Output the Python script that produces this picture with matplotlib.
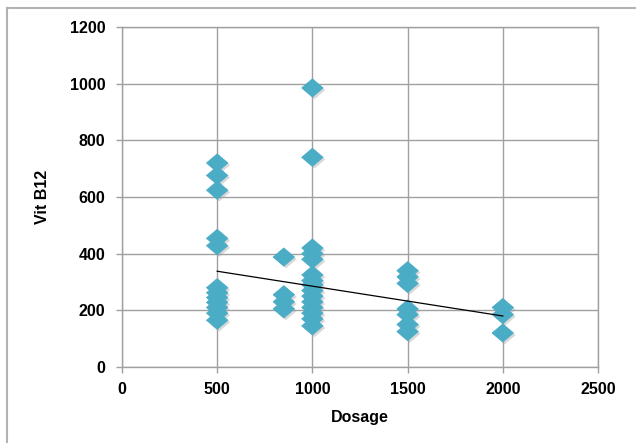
import matplotlib
matplotlib.use("Agg")
import matplotlib.pyplot as plt
from matplotlib.lines import Line2D
import matplotlib.patheffects as pe
import numpy as np

# Data
dose_500 = [720, 676, 624, 454, 428, 280, 262, 245, 228, 210, 190, 165]
dose_850 = [388, 255, 230, 205]
dose_1000 = [985, 740, 420, 400, 380, 325, 305, 290, 270, 250, 230, 210, 190, 170, 145]
dose_1500 = [340, 318, 295, 205, 185, 150, 125]
dose_2000 = [210, 185, 120]
dosages = [500, 850, 1000, 1500, 2000]
groups = [dose_500, dose_850, dose_1000, dose_1500, dose_2000]

trend_x = [500, 2000]
trend_y = [338, 180]

x_ticks = [0, 500, 1000, 1500, 2000, 2500]
y_ticks = [0, 200, 400, 600, 800, 1000, 1200]

xs = np.concatenate([[d] * len(g) for d, g in zip(dosages, groups)])
ys = np.concatenate(groups)

plt.rcParams['font.family'] = ['Liberation Sans', 'DejaVu Sans']

fig = plt.figure(figsize=(6.36, 4.43), dpi=100)
W, H = 636, 443
ax = fig.add_axes([122 / W, 1 - 367 / H, (598 - 122) / W, (367 - 27) / H])

grid_col = '#a0a0a0'
ax.set_xlim(0, 2500)
ax.set_ylim(0, 1200)
ax.set_xticks(x_ticks)
ax.set_yticks(y_ticks)
ax.grid(True, color=grid_col, linewidth=1.0)
ax.set_axisbelow(True)
for s in ax.spines.values():
    s.set_color(grid_col)
    s.set_linewidth(1.0)

ax.tick_params(axis='both', colors=grid_col, length=4, width=1.0,
               labelcolor='black', labelsize=11.5)
ax.tick_params(axis='y', pad=8)
ax.tick_params(axis='x', pad=7)
for lab in ax.get_xticklabels() + ax.get_yticklabels():
    lab.set_fontweight('bold')

diamond = [(-1, 0), (0, 0.85), (1, 0), (0, -0.85), (-1, 0)]
ax.plot(xs, ys, linestyle='none', marker=diamond, markersize=15.5,
        markerfacecolor='#4bacc6', markeredgecolor='#4bacc6', markeredgewidth=0.5,
        zorder=3,
        path_effects=[pe.SimplePatchShadow(offset=(1.5, -1.5), shadow_rgbFace='#a0a0a0', alpha=0.4),
                      pe.Normal()])

ax.plot(trend_x, trend_y, color='black', linewidth=0.9, zorder=4)

ax.set_xlabel('Dosage', fontsize=11.5, fontweight='bold', labelpad=9)
ax.set_ylabel('Vit B12', fontsize=11.5, fontweight='bold', labelpad=14)

# Outer chart frame (partly cut off at right and bottom)
fx = 7 / W
fy = 1 - 7.5 / H
fig.add_artist(Line2D([fx, 1.0], [fy, fy], transform=fig.transFigure,
                      color='#b3b3b3', linewidth=1.5))
fig.add_artist(Line2D([fx, fx], [0.0, fy], transform=fig.transFigure,
                      color='#b3b3b3', linewidth=1.5))

fig.savefig('out.png', dpi=100)
